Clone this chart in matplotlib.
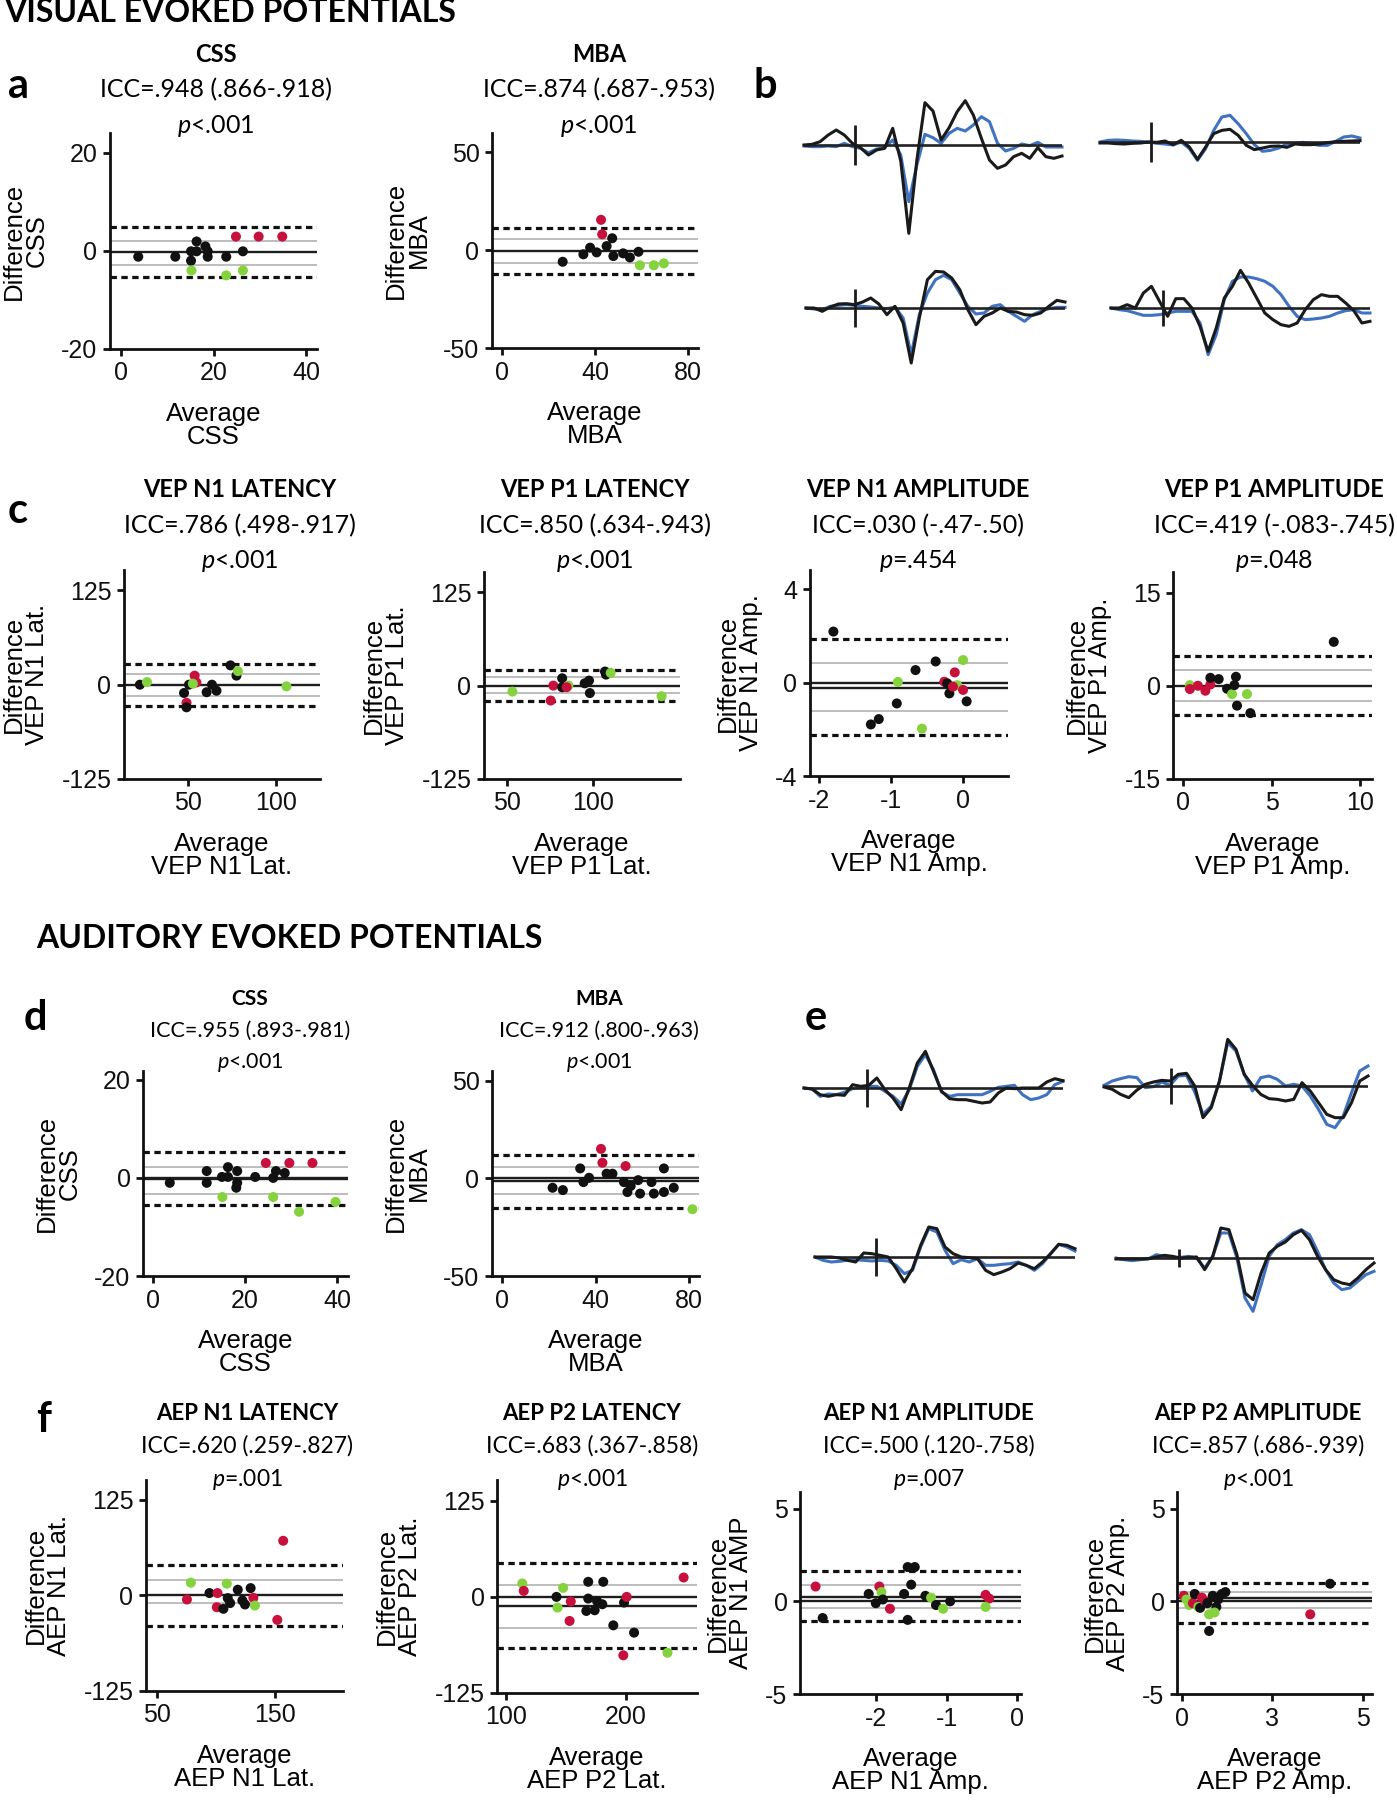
import matplotlib
matplotlib.use("Agg")
import matplotlib.pyplot as plt

W, H = 1397, 1800
plt.rcParams['font.family'] = ['Liberation Sans', 'DejaVu Sans']
plt.rcParams['axes.unicode_minus'] = False
plt.rcParams['mathtext.fontset'] = 'custom'
plt.rcParams['mathtext.rm'] = 'Lato'
plt.rcParams['mathtext.it'] = 'Lato:italic'

RED = '#C8103C'
GREEN = '#84D23C'
BLACK = '#111111'
BLUE = '#3F72C2'
CMAP = {'k': BLACK, 'r': RED, 'g': GREEN}
TITLE_FONT = ['Lato', 'DejaVu Sans']

# ---------------- Bland-Altman data ----------------
# a: visual CSS / MBA
a_css_x = [3.7, 11.7, 15.1, 15.1, 16.3, 16.3, 18.2, 18.7, 18.7, 22.7, 26.3, 24.8, 29.7, 34.8, 15.2, 22.7, 26.3]
a_css_y = [-1.2, -1.2, -0.1, -2.0, 1.9, -0.1, 0.9, -0.1, -1.2, -1.2, -0.1, 2.9, 2.9, 2.9, -4.0, -5.0, -4.0]
a_css_c = 'kkkkkkkkkkkrrrggg'
a_css_loa = [4.8, -5.3]
a_css_ci = [1.9, -2.9]
a_css_mean = [-0.3]

a_mba_x = [26.1, 35, 37.9, 40.7, 47.4, 45, 47.9, 52.1, 55, 58.7, 42.6, 43.1, 59.3, 65.3, 69.6]
a_mba_y = [-6.0, -2.2, 1.2, -1.2, 6.0, 2.0, -3.1, -1.7, -3.8, -0.9, 15.4, 8.0, -7.8, -7.8, -6.8]
a_mba_c = 'kkkkkkkkkkrrggg'
a_mba_loa = [11.4, -12.3]
a_mba_ci = [5.6, -6.5]
a_mba_mean = [-0.3]

# c: VEP latencies / amplitudes
c_n1lat_x = [23, 27, 48, 49.4, 49.4, 50.8, 54, 55, 53, 60.8, 63.8, 66.4, 74.3, 77.7, 78.5, 106]
c_n1lat_y = [0, 3.5, -11, -24, -30, 0, 12, 3, 1.3, -10, 0, -8, 25.6, 12, 18, -2.2]
c_n1lat_c = 'kgkrkkrrgkkkkkgg'
c_n1lat_loa = [27, -28.7]
c_n1lat_ci = [13.7, -15.5]
c_n1lat_mean = [0]

c_p1lat_x = [53.3, 75.4, 76.9, 82, 82, 85.6, 84.6, 95, 97.5, 98, 106.7, 107.3, 110, 139.4]
c_p1lat_y = [-8, -20, 0, 9.8, -2.2, 0, -2.2, 3, 6.7, -10, 18.8, 14.7, 17, -14.3]
c_p1lat_c = 'grrkkgrkkkkkgg'
c_p1lat_loa = [21.4, -20]
c_p1lat_ci = [11.2, -10.3]
c_p1lat_mean = [0]

c_n1amp_x = [-1.80, -1.28, -1.17, -0.92, -0.905, -0.66, -0.57, -0.38, -0.26, -0.22, -0.19, -0.115, -0.08, -0.14, 0, 0, 0.05]
c_n1amp_y = [2.19, -1.79, -1.56, -0.89, 0.03, 0.54, -1.97, 0.91, 0.04, -0.03, -0.46, 0.44, -0.11, -0.17, 0.97, -0.31, -0.8]
c_n1amp_c = 'kkkkgkgkrkkrgrgrk'
c_n1amp_loa = [1.86, -2.23]
c_n1amp_ci = [0.86, -1.21]
c_n1amp_mean = [0, -0.21]

c_p1amp_x = [0.41, 0.41, 0.86, 1.28, 1.56, 1.56, 2.03, 2.5, 2.78, 2.91, 3.0, 3.06, 3.62, 3.81, 8.5]
c_p1amp_y = [0.1, -0.53, 0, -0.8, 0.2, 1.28, 1.07, -0.48, -1.34, 0.1, 1.44, -3.2, -1.34, -4.4, 7.06]
c_p1amp_c = 'grrrrkkkgkkkgkk'
c_p1amp_loa = [4.76, -4.7]
c_p1amp_ci = [2.5, -2.4]
c_p1amp_mean = [0]

# d: auditory CSS / MBA
d_css_x = [3.7, 11.7, 11.7, 15.1, 15, 16.3, 16.3, 18.3, 18.3, 18.1, 22.2, 24.5, 26.1, 26.1, 26.7, 28.6, 29.6, 34.6, 31.7, 39.6]
d_css_y = [-1.0, 1.4, -1.0, -3.9, 0.2, 2.2, 0.2, 1.4, -1.0, -2.0, 0.2, 3.05, -3.9, 0, 1.4, 1.0, 3.05, 3.05, -6.9, -4.9]
d_css_c = 'kkkgkkkkkkkrgkkkrrgg'
d_css_loa = [5.3, -5.6]
d_css_ci = [2.2, -3.2]
d_css_mean = [0, -0.3]

d_mba_x = [21.6, 26, 33.4, 34.8, 37.2, 42.3, 42.9, 44.7, 47.2, 52.8, 52.1, 53.6, 55, 58.2, 59, 63.9, 64.9, 69.2, 69.2, 73.4, 81.4]
d_mba_y = [-4.8, -6, 5.1, -1.9, 0.3, 15.1, 8, 2.4, 2.4, 6.3, -1.9, -7, -3.9, -0.9, -7.8, -1.9, -7.8, 5.1, -7, -4.8, -15.8]
d_mba_c = 'kkkkkrrkkrkkkkkkkkkkg'
d_mba_loa = [11.9, -15.3]
d_mba_ci = [5.8, -8.2]
d_mba_mean = [0, -1.4]

# f: AEP latencies / amplitudes
f_n1lat_x = [75.4, 78.7, 94.5, 100.7, 101.3, 109.2, 106.3, 110, 112, 118.5, 122.4, 124.6, 129.4, 131.7, 133, 152, 157]
f_n1lat_y = [-5.3, 16.7, 3.1, -15.4, 3.1, 15.4, -17.5, -3.5, -10, 7.5, -6.6, -11.8, 9.6, -3.1, -13.2, -32, 71.5]
f_n1lat_c = 'rgkrrgkkkkkkkrgrr'
f_n1lat_loa = [39.5, -39.5]
f_n1lat_ci = [20.6, -10]
f_n1lat_mean = [0]

f_p2lat_x = [113.4, 114.6, 142, 142.9, 147.6, 154, 153, 167, 168.6, 168.6, 174, 176, 180.4, 181.2, 189.6, 198, 198.6, 200.8, 207, 235, 248.5]
f_p2lat_y = [17.4, 7.8, 0, -13.9, 11.7, -6, -31.3, -18.3, 19.6, -2.2, -17.4, -5.6, -9.6, 19.6, -37, -76, -7.4, 0, -46.5, -72.6, 25.2]
f_p2lat_c = 'grkggrrkkkkkkkkrkrkgr'
f_p2lat_loa = [43.5, -66.5]
f_p2lat_ci = [16, -40.4]
f_p2lat_mean = [0, -12.2]

f_n1amp_x = [-2.85, -2.75, -2.1, -2.0, -1.95, -1.92, -1.9, -1.8, -1.6, -1.55, -1.45, -1.5, -1.55, -1.3, -1.22, -1.15, -1.05, -0.95, -0.45, -0.4, -0.45]
f_n1amp_y = [0.8, -0.9, 0.4, -0.1, 0.8, 0.5, 0.1, -0.4, 0.4, 1.85, 1.85, 0.9, -1.0, 0.3, 0.2, -0.2, -0.4, 0.0, 0.35, 0.15, -0.3]
f_n1amp_c = 'rkkkrgkrkkkkkkgkgkrrg'
f_n1amp_loa = [1.65, -1.05]
f_n1amp_ci = [0.9, -0.35]
f_n1amp_mean = [0, 0.25]

f_p2amp_x = [0.05, 0.12, 0.2, 0.3, 0.35, 0.45, 0.5, 0.55, 0.65, 0.7, 0.75, 0.75, 0.85, 0.95, 1.0, 0.9, 1.1, 1.2, 3.55, 4.1]
f_p2amp_y = [0.3, 0.1, -0.2, -0.1, 0.4, -0.3, -0.35, 0.2, 0.0, -0.1, -0.7, -1.6, 0.3, -0.3, 0.1, -0.6, 0.4, 0.5, -0.7, 0.95]
f_p2amp_c = 'rggrkgkrrkgkkkkgkkrk'
f_p2amp_loa = [1.0, -1.15]
f_p2amp_ci = [0.5, -0.35]
f_p2amp_mean = [0, 0.2]

# ---------------- waveform data (33 samples each) ----------------
b_tl_black = [0, 0.2, 1.0, 3.0, 4.5, 3.0, 0.5, -0.8, -3.0, -1.5, -1.0, 5.0, -4.8, -26.5, -4.5, 12.7, 10.2, 1.5, 5.2, 10, 13.3, 9, 2, -4.5, -7, -6, -3.5, -2.5, -4, -0.8, -3.5, -4, -3.3]
b_tl_blue = [-0.3, -0.5, -0.5, -0.3, -0.5, 0.5, -0.5, -1.0, -2.3, -1.2, -0.8, 1.5, -3.0, -17, -6, 3.2, 2.2, 0.5, 3.5, 5, 4.2, 6, 8.5, 7, 0.5, -1.8, -1.0, 0.3, -0.2, 0.8, -0.6, -0.6, -0.6]
b_tr_black = [-0.3, -0.3, -0.5, -0.6, -0.4, -0.3, 0, -0.1, 0.3, -0.8, 0.5, -1.5, -5.2, -1.5, 2.5, 3.5, 3.8, 2.0, -1.0, -2.3, -1.8, -1.3, -1.2, -1.6, -0.6, -0.8, -0.8, -0.6, -0.2, 0.1, 0.2, 0.3, 0.4]
b_tr_blue = [0, 0.5, 0.6, 0.5, 0.3, 0.2, 0, -0.4, -0.6, -0.9, 0, -2.0, -5.5, -2.0, 3.5, 7.5, 8.0, 5.5, 2.5, -0.8, -2.8, -2.5, -1.8, -0.6, -0.4, -0.1, -0.6, -1.0, -1.0, 0.2, 1.5, 1.8, 1.2]
b_bl_black = [0, 0, -1.0, 0.3, 1.2, 1.3, 1.0, 1.8, 3.0, 1.2, -2.0, 0.5, -4.5, -16.5, -3.0, 8.5, 11.0, 10.8, 9.0, 5.5, -0.5, -5.0, -2.5, -1.5, 0, -1.0, -1.2, -2.0, -2.2, -1.5, 0.5, 2.3, 1.8]
b_bl_blue = [0, -0.3, -0.5, 0.5, 0.8, 1.0, 0.8, 0.5, 0.3, 0, -0.2, 0.3, -3.0, -14.0, -2.0, 4.5, 8.5, 9.8, 8.5, 4.5, 0.5, -1.8, -1.5, 0.5, 1.0, -1.0, -2.5, -4.0, -2.0, -1.0, -0.2, 0.2, 0.2]
b_br_black = [0, 0, 1.0, 0, 4.5, 6.5, 2.0, -2.5, 2.8, 2.8, 0, -5.5, -13.0, -6.0, 3.0, 6.5, 11.3, 7.5, 3.0, -1.5, -3.5, -5.0, -5.5, -4.5, -0.5, 2.5, 4.0, 3.5, 3.5, 1.5, -0.8, -4.5, -4.0]
b_br_blue = [0, -0.5, -0.8, -1.5, -2.2, -2.2, -2.0, -1.5, -1.0, -1.0, -1.0, -4.5, -14.0, -8.0, 2.5, 8.0, 9.3, 9.3, 8.8, 8.0, 6.5, 4.0, 0.5, -2.5, -3.5, -3.3, -3.0, -2.5, -1.5, -0.8, -0.5, -1.5, -1.5]

e_tl_black = [0, -0.3, -2.0, -2.5, -2.0, -2.2, 1.0, 0.5, 0.8, 3.0, -0.5, -3.0, -6.5, 0, 7.5, 11.0, 5.0, -1.0, -3.2, -3.5, -3.5, -4.0, -4.5, -4.2, -1.5, 0, -0.2, 0, 0, 0, 1.8, 2.8, 2.2]
e_tl_blue = [0, -0.3, -2.5, -1.8, -2.0, -1.3, -0.2, 0.2, 0.5, 0.5, -1.0, -2.5, -4.8, -0.5, 6.5, 10.0, 5.5, -1.2, -2.5, -2.0, -2.0, -2.0, -2.0, -1.0, 0.2, 0.5, 0.8, -2.0, -3.5, -3.0, -2.0, 1.0, 2.0]
e_tr_black = [-0.3, -1.0, -2.5, -3.5, -1.2, 0.5, 1.2, 1.7, 1.5, 3.5, 3.8, 0, -9.5, -6.5, 1.5, 14.0, 11.0, 3.5, 0.2, -2.5, -3.8, -4.0, -4.5, -4.0, 1.0, -1.5, -5.0, -8.5, -9.5, -9.5, -5.0, 1.5, 3.0]
e_tr_blue = [0.2, 1.5, 2.2, 2.8, 2.5, -0.5, -0.2, 1.2, 0.2, 3.0, 3.2, -1.8, -8.5, -6.0, 1.5, 13.0, 10.5, 3.5, -1.5, 2.5, 3.0, 2.0, 0, 0.5, 0, -3.0, -7.0, -11.5, -12.5, -9.0, -2.0, 4.5, 6.0]
e_bl_black = [0, 0, 0, -0.3, -1.0, -1.5, 1.2, 1.0, 0.5, 0, -3.5, -7.5, -3.5, 3.5, 9.0, 8.5, 3.0, 1.0, 0, -0.2, -0.5, -4.0, -5.3, -4.5, -3.5, -1.8, -2.5, -3.5, -1.5, 1.0, 3.8, 3.5, 2.5]
e_bl_blue = [0, -1.0, -1.5, -1.3, -1.0, -0.8, -1.0, -1.2, -1.0, -1.2, -2.5, -5.0, -4.0, 3.0, 8.5, 7.5, 2.0, -2.0, -0.8, -1.5, -0.5, -2.5, -2.5, -2.2, -2.0, -1.5, -2.5, -4.0, -2.0, 1.0, 3.8, 3.0, 1.8]
e_br_black = [-0.3, -0.3, -0.3, -0.3, -0.2, 0.3, 0.8, 0.5, 0, 0.2, 0.3, -3.5, 0.5, 9.0, 8.5, 1.0, -10.5, -12.5, -4.5, 1.5, 3.5, 4.8, 7.0, 8.3, 5.5, 0.5, -3.5, -6.5, -7.5, -8.0, -6.0, -3.5, -1.5]
e_br_blue = [0, -0.5, -0.8, -0.5, -0.3, 1.0, 0.5, 0, 0.2, 0.5, 0, -3.0, 0.5, 7.5, 7.5, 0, -12.0, -16.0, -8.0, 0.5, 4.0, 5.5, 7.5, 8.5, 7.0, 2.0, -3.5, -7.5, -9.5, -9.0, -7.0, -5.0, -4.0]

fig = plt.figure(figsize=(W / 100, H / 100), dpi=100)


def frac(l, r, t, b):
    return [l / W, 1 - b / H, (r - l) / W, (b - t) / H]


def ba_panel(box, xs, ys, cols, loa, ci, mean, xlim, ylim, xticks, yticks,
             xlab, ylab, xticklabels=None):
    ax = fig.add_axes(frac(*box))
    for v in ci:
        ax.axhline(v, color='#b8b8b8', lw=1.3, zorder=1)
    for v in mean:
        ax.axhline(v, color='#1e1e1e', lw=1.7, zorder=2)
    for v in loa:
        ax.axhline(v, color='#111111', lw=2.3, ls=(0, (2, 1.4)), zorder=2)
    ax.scatter(xs, ys, s=52, c=[CMAP[c] for c in cols], edgecolors='none',
               zorder=3, clip_on=False)
    ax.set_xlim(xlim)
    ax.set_ylim(ylim)
    ax.set_xticks(xticks)
    if xticklabels:
        ax.set_xticklabels(xticklabels)
    ax.set_yticks(yticks)
    for s in ['top', 'right']:
        ax.spines[s].set_visible(False)
    for s in ['left', 'bottom']:
        ax.spines[s].set_linewidth(2)
        ax.spines[s].set_color('#111111')
    ax.tick_params(direction='out', length=5, width=2, labelsize=18,
                   colors='#111111', pad=4)
    ax.set_xlabel(xlab, fontsize=18.5, labelpad=12, linespacing=0.95)
    ax.set_ylabel(ylab, fontsize=18.5, labelpad=9, linespacing=0.95)
    return ax


def head(x, ys, title, icc, p, s_title, s_icc):
    fig.text(x / W, 1 - ys[0] / H, title, ha='center', va='center',
             fontsize=s_title, fontweight='bold', family=TITLE_FONT)
    fig.text(x / W, 1 - ys[1] / H, icc, ha='center', va='center',
             fontsize=s_icc, family=TITLE_FONT)
    fig.text(x / W, 1 - ys[2] / H, r'$\it{p}$' + p, ha='center', va='center',
             fontsize=s_icc, family=TITLE_FONT)


def wave_panel(l, r, base, black, blue, stim, half):
    ax = fig.add_axes(frac(l, r, base - 200 / 3, base + 100))
    ax.set_xlim(0, len(black) - 1)
    ax.set_ylim(-30, 20)
    ax.axis('off')
    ax.plot(blue, color=BLUE, lw=2.2, clip_on=False, zorder=1)
    ax.axhline(0, color='#222222', lw=1.9, zorder=2)
    ax.plot(black, color='#1a1a1a', lw=2.2, clip_on=False, zorder=3)
    ax.vlines(stim, -half, half, color='#1a1a1a', lw=2.0, zorder=3)


def label(x, y, s, size):
    fig.text(x / W, 1 - y / H, s, ha='left', va='center', fontsize=size,
             fontweight='bold', family=TITLE_FONT)


# section headers and panel letters
label(4, 12, 'VISUAL EVOKED POTENTIALS', 23)
label(36, 938, 'AUDITORY EVOKED POTENTIALS', 23)
label(8, 86, 'a', 30)
label(754, 86, 'b', 30)
label(8, 511, 'c', 30)
label(24, 1018, 'd', 30)
label(805, 1018, 'e', 30)
label(36, 1420, 'f', 30)

# ---------------- row a ----------------
head(216, (55, 90, 126), 'CSS', 'ICC=.948 (.866-.918)', '<.001', 17, 18)
ba_panel((110, 317, 133, 349), a_css_x, a_css_y, a_css_c, a_css_loa, a_css_ci, a_css_mean,
         (-2.4, 42.3), (-20, 24), [0, 20, 40], [-20, 0, 20], 'Average\nCSS', 'Difference\nCSS')
head(599, (55, 90, 126), 'MBA', 'ICC=.874 (.687-.953)', '<.001', 17, 18)
ba_panel((492, 698, 133, 348), a_mba_x, a_mba_y, a_mba_c, a_mba_loa, a_mba_ci, a_mba_mean,
         (-4.3, 84.3), (-50, 59.7), [0, 40, 80], [-50, 0, 50], 'Average\nMBA', 'Difference\nMBA')

# ---------------- panel b ----------------
wave_panel(804, 1062, 145, b_tl_black, b_tl_blue, 6.3, 6)
wave_panel(1100, 1360, 142, b_tr_black, b_tr_blue, 6.3, 6)
wave_panel(806, 1065, 308, b_bl_black, b_bl_blue, 6.05, 5.7)
wave_panel(1111, 1370, 308, b_br_black, b_br_blue, 6.4, 5.5)

# ---------------- row c ----------------
cy = (490, 526, 561)
head(240, cy, 'VEP N1 LATENCY', 'ICC=.786 (.498-.917)', '<.001', 17, 18)
ba_panel((124, 320, 570, 779), c_n1lat_x, c_n1lat_y, c_n1lat_c, c_n1lat_loa, c_n1lat_ci, c_n1lat_mean,
         (14, 125), (-125, 152), [50, 100], [-125, 0, 125], 'Average\nVEP N1 Lat.', 'Difference\nVEP N1 Lat.')
head(595, cy, 'VEP P1 LATENCY', 'ICC=.850 (.634-.943)', '<.001', 17, 18)
ba_panel((484, 680, 572, 779), c_p1lat_x, c_p1lat_y, c_p1lat_c, c_p1lat_loa, c_p1lat_ci, c_p1lat_mean,
         (36.9, 150), (-125, 152), [50, 100], [-125, 0, 125], 'Average\nVEP P1 Lat.', 'Difference\nVEP P1 Lat.')
head(918, cy, 'VEP N1 AMPLITUDE', 'ICC=.030 (-.47-.50)', '=.454', 17, 18)
ba_panel((810, 1008, 570, 776), c_n1amp_x, c_n1amp_y, c_n1amp_c, c_n1amp_loa, c_n1amp_ci, c_n1amp_mean,
         (-2.125, 0.624), (-4, 4.83), [-2, -1, 0], [-4, 0, 4], 'Average\nVEP N1 Amp.', 'Difference\nVEP N1 Amp.')
head(1274, cy, 'VEP P1 AMPLITUDE', 'ICC=.419 (-.083-.745)', '=.048', 17, 18)
ba_panel((1173, 1372, 572, 779), c_p1amp_x, c_p1amp_y, c_p1amp_c, c_p1amp_loa, c_p1amp_ci, c_p1amp_mean,
         (-0.54, 10.65), (-15, 18.3), [0, 5, 10], [-15, 0, 15], 'Average\nVEP P1 Amp.', 'Difference\nVEP P1 Amp.')

# ---------------- row d ----------------
dy = (999, 1031, 1063)
head(250, dy, 'CSS', 'ICC=.955 (.893-.981)', '<.001', 15, 15.5)
ba_panel((143, 348, 1071, 1276), d_css_x, d_css_y, d_css_c, d_css_loa, d_css_ci, d_css_mean,
         (-2.1, 42.3), (-20, 21.8), [0, 20, 40], [-20, 0, 20], 'Average\nCSS', 'Difference\nCSS')
head(599, dy, 'MBA', 'ICC=.912 (.800-.963)', '<.001', 15, 15.5)
ba_panel((492, 699, 1071, 1276), d_mba_x, d_mba_y, d_mba_c, d_mba_loa, d_mba_ci, d_mba_mean,
         (-4.3, 84.2), (-50, 55), [0, 40, 80], [-50, 0, 50], 'Average\nMBA', 'Difference\nMBA')

# ---------------- panel e ----------------
wave_panel(804, 1063, 1088, e_tl_black, e_tl_blue, 7.8, 5.7)
wave_panel(1104, 1368, 1086, e_tr_black, e_tr_blue, 8.1, 5.5)
wave_panel(815, 1075, 1257, e_bl_black, e_bl_blue, 7.5, 5.7)
wave_panel(1116, 1374, 1258, e_br_black, e_br_blue, 7.8, 2.8)

# ---------------- row f ----------------
fy = (1414, 1446, 1479)
head(247, fy, 'AEP N1 LATENCY', 'ICC=.620 (.259-.827)', '=.001', 16, 16.5)
ba_panel((146, 343, 1480, 1691), f_n1lat_x, f_n1lat_y, f_n1lat_c, f_n1lat_loa, f_n1lat_ci, f_n1lat_mean,
         (40.7, 207.7), (-125, 151), [50, 150], [-125, 0, 125], 'Average\nAEP N1 Lat.', 'Difference\nAEP N1 Lat.')
head(592, fy, 'AEP P2 LATENCY', 'ICC=.683 (.367-.858)', '<.001', 16, 16.5)
ba_panel((497, 697, 1480, 1693), f_p2lat_x, f_p2lat_y, f_p2lat_c, f_p2lat_loa, f_p2lat_ci, f_p2lat_mean,
         (92.2, 259.7), (-125, 152), [100, 200], [-125, 0, 125], 'Average\nAEP P2 Lat.', 'Difference\nAEP P2 Lat.')
head(929, fy, 'AEP N1 AMPLITUDE', 'ICC=.500 (.120-.758)', '=.007', 16, 16.5)
ba_panel((800, 1021, 1492, 1694), f_n1amp_x, f_n1amp_y, f_n1amp_c, f_n1amp_loa, f_n1amp_ci, f_n1amp_mean,
         (-3.07, 0.05), (-5, 5.9), [-2, -1, 0], [-5, 0, 5], 'Average\nAEP N1 Amp.', 'Difference\nAEP N1 AMP')
head(1258, fy, 'AEP P2 AMPLITUDE', 'ICC=.857 (.686-.939)', '<.001', 16, 16.5)
ba_panel((1177, 1372, 1492, 1694), f_p2amp_x, f_p2amp_y, f_p2amp_c, f_p2amp_loa, f_p2amp_ci, f_p2amp_mean,
         (-0.14, 5.26), (-5, 5.9), [0, 2.5, 5], [-5, 0, 5], 'Average\nAEP P2 Amp.', 'Difference\nAEP P2 Amp.',
         xticklabels=['0', '3', '5'])

fig.savefig('out.png', dpi=100, facecolor='white')
